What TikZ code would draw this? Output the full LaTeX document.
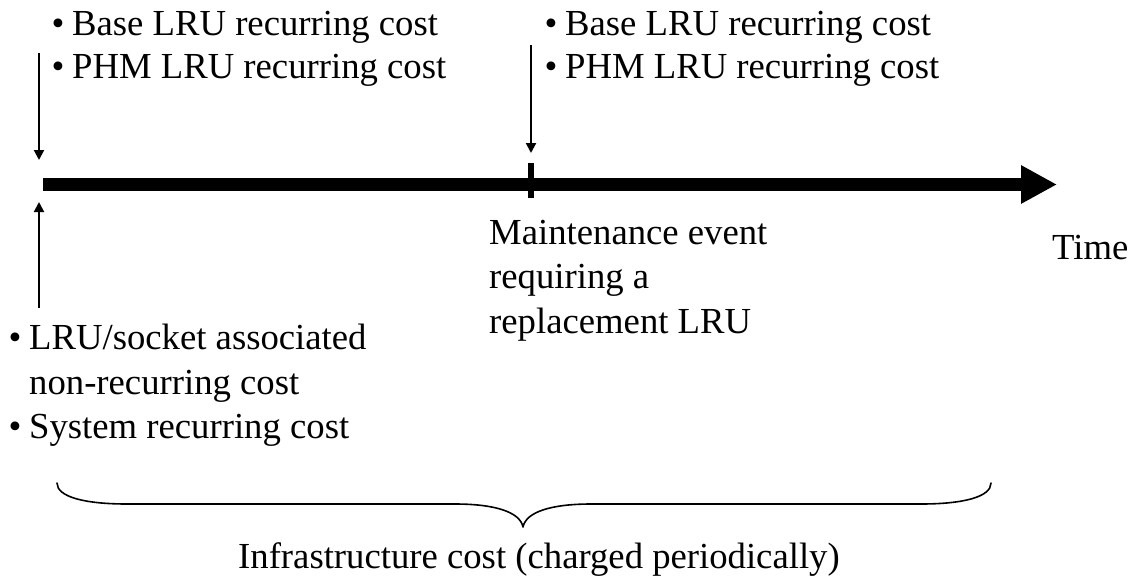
\documentclass[tikz,border=0pt]{standalone}
\usepackage{fontspec}
\setmainfont{Liberation Serif}
\usetikzlibrary{arrows.meta}
\newcommand\bulletmark{\makebox[20.5pt][l]{•}}
\begin{document}
\begin{tikzpicture}[x=1pt,y=-1pt,
  txt/.style={anchor=base west, inner sep=0pt, font=\fontsize{36.7}{44}\selectfont},
  pointer/.style={line width=2pt, -{Triangle[length=10pt,width=10pt]}},
  timeline/.style={line width=13pt, -{Triangle[length=36pt,width=36pt]}},
  tickmark/.style={line width=6pt},
  brace/.style={line width=1.6pt, line cap=round, line join=round},
]
\useasboundingbox (0,0) rectangle (1135,582);

% time axis
\coordinate (start) at (43,184.5);
\coordinate (end) at (1057,184.5);
\coordinate (event) at (531,184.5);
\draw[timeline] (start) -- (end);
\draw[tickmark] (event) ++(0,-21.5) -- ++(0,35);

% cost pointers
\coordinate (initTop) at (39,53);
\coordinate (initTopTip) at (39,160);
\coordinate (initBot) at (39,308);
\coordinate (initBotTip) at (39,202);
\coordinate (eventTop) at (531,45);
\coordinate (eventTopTip) at (531,153);
\draw[pointer] (initTop) -- (initTopTip);
\draw[pointer] (initBot) -- (initBotTip);
\draw[pointer] (eventTop) -- (eventTopTip);

% labels
\node[txt] (tl1) at (51.5,35) {\bulletmark Base LRU recurring cost};
\node[txt] (tl2) at (51.5,78) {\bulletmark PHM LRU recurring cost};
\node[txt] (tr1) at (544.5,35) {\bulletmark Base LRU recurring cost};
\node[txt] (tr2) at (544.5,78) {\bulletmark PHM LRU recurring cost};

\node[txt] (bl1) at (8.5,349) {\bulletmark LRU/socket associated};
\node[txt] (bl2) at (29,394) {non-recurring cost};
\node[txt] (bl3) at (8.5,438) {\bulletmark System recurring cost};

\node[txt] (ev1) at (489,244) {Maintenance event};
\node[txt] (ev2) at (489,288) {requiring a};
\node[txt] (ev3) at (489,333) {replacement LRU};

\node[txt] (time) at (1052,259) {Time};

% infrastructure brace
\draw[brace] (57,483) .. controls (57,497) and (85,504) .. (127,504)
  -- (455,504) .. controls (495,504) and (520,512) .. (523,527)
  .. controls (526,512) and (551,504) .. (591,504)
  -- (921,504) .. controls (963,504) and (991,497) .. (991,483);
\node[txt] (infra) at (238,568) {Infrastructure cost (charged periodically)};
\end{tikzpicture}
\end{document}
